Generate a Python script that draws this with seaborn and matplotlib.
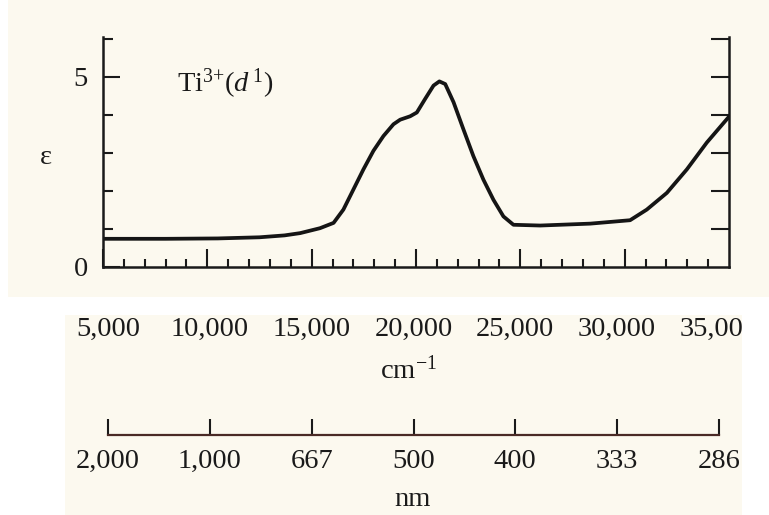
import numpy as np
import pandas as pd
import matplotlib
matplotlib.use("Agg")
import matplotlib.pyplot as plt
import seaborn as sns
from matplotlib.patches import Rectangle
from matplotlib.transforms import Bbox, TransformedBbox

# Data (wavenumber in cm^-1, molar absorptivity)
wavenumber = [5000, 8000, 10500, 12500, 13700, 14450, 15400, 16050, 16520,
              17000, 17480, 17960, 18440, 18920, 19240, 19720, 20040, 20440,
              20840, 21120, 21400, 21800, 22270, 22750, 23230, 23710, 24190,
              24670, 25950, 28350, 30260, 31060, 32020, 32980, 33940, 35000]
epsilon = [0.73, 0.73, 0.74, 0.77, 0.82, 0.88, 1.01, 1.15, 1.50,
           2.03, 2.56, 3.05, 3.44, 3.75, 3.87, 3.96, 4.06, 4.42,
           4.77, 4.88, 4.81, 4.33, 3.62, 2.91, 2.29, 1.76, 1.32,
           1.10, 1.08, 1.13, 1.22, 1.50, 1.94, 2.56, 3.27, 3.95]

# Scale bar labels
scale_ticks = [5000, 10000, 15000, 20000, 25000, 30000, 35000]
cm_labels = ["5,000", "10,000", "15,000", "20,000", "25,000", "30,000", "35,000"]
nm_labels = ["2,000", "1,000", "667", "500", "400", "333", "286"]

df = pd.DataFrame({"wn": wavenumber, "eps": epsilon})

sns.set_style("white")
plt.rcParams["font.family"] = ["Liberation Serif", "DejaVu Serif"]
plt.rcParams["mathtext.fontset"] = "custom"
plt.rcParams["mathtext.rm"] = "Liberation Serif"
plt.rcParams["mathtext.it"] = "Liberation Serif:italic"

W, H = 769, 515
ink = "#1a1a1a"
cream = "#fcf9ef"
fs = 20.5


def box(x0, y0, x1, y1):
    # pixel box (top-left origin) -> figure rect
    return [x0 / W, 1 - y1 / H, (x1 - x0) / W, (y1 - y0) / H]


fig = plt.figure(figsize=(W / 100, H / 100), dpi=100)
fig.patch.set_facecolor("white")

# scanned paper backgrounds
for (x0, y0, x1, y1) in [(8, 0, 769, 297), (65, 315, 742, 515)]:
    r = box(x0, y0, x1, y1)
    fig.patches.append(Rectangle((r[0], r[1]), r[2], r[3], transform=fig.transFigure,
                                 facecolor=cream, edgecolor="none", zorder=-5))

# Main spectrum
ax = fig.add_axes(box(103, 37, 729, 266.5))
ax.set_facecolor("none")
sns.lineplot(data=df, x="wn", y="eps", ax=ax, color="#151515", lw=2.7,
             sort=False, estimator=None, solid_joinstyle="round")
ax.set_xlim(5000, 35000)
ax.set_ylim(0, 6.05)
ax.set_xlabel("")
for s in ["left", "bottom"]:
    ax.spines[s].set_linewidth(1.8)
    ax.spines[s].set_color(ink)
ax.spines["top"].set_visible(False)
ax.spines["right"].set_visible(False)

ax.set_xticks([5000, 10000, 15000, 20000, 25000, 30000])
ax.set_xticks(np.arange(6000, 35000, 1000), minor=True)
ax.tick_params(axis="x", which="major", bottom=True, direction="in", length=13,
               width=1.5, color=ink, labelbottom=False)
ax.tick_params(axis="x", which="minor", bottom=True, direction="in", length=6,
               width=1.5, color=ink)

ax.set_yticks([0, 5])
ax.set_yticklabels(["0", "5"])
ax.set_yticks([1, 2, 3, 4, 6], minor=True)
ax.tick_params(axis="y", which="major", left=True, direction="in", length=12,
               width=1.5, color=ink, labelsize=fs, labelcolor=ink, pad=11)
ax.tick_params(axis="y", which="minor", left=True, direction="in", length=7,
               width=1.5, color=ink)

ax.set_ylabel("ε", rotation=0, fontsize=fs, color=ink, va="center")
ax.yaxis.set_label_coords(-0.091, 0.473)

right = ax.secondary_yaxis("right")
right.set_yticks([1, 2, 3, 4, 5, 6])
right.tick_params(right=True, direction="in", length=13, width=1.5, color=ink,
                  labelright=False)
right.spines["right"].set_linewidth(1.8)
right.spines["right"].set_color(ink)

ax.text(8550, 4.81, "Ti$^{3{+}}$($d^{\\,1}$)", fontsize=fs, color=ink, va="center")

# Wavenumber / wavelength scale bar
ax2 = fig.add_axes(box(108, 345, 719, 435))
ax2.set_facecolor("none")
ax2.set_xlim(5000, 35000)
ax2.set_yticks([])
for s in ["left", "right", "top"]:
    ax2.spines[s].set_visible(False)
ax2.spines["bottom"].set_color("#4a2a26")
ax2.spines["bottom"].set_linewidth(1.6)
ax2.set_xticks(scale_ticks)
ax2.set_xticklabels(nm_labels)
ax2.tick_params(axis="x", bottom=True, direction="in", length=11.5, width=1.5,
                color=ink, labelsize=fs, labelcolor=ink, pad=10)

top = ax2.secondary_xaxis("top")
top.set_xticks(scale_ticks)
top.set_xticklabels(cm_labels)
top.tick_params(length=0, labelsize=fs, labelcolor=ink, pad=2)
top.spines["top"].set_visible(False)

clip = TransformedBbox(Bbox([[0, 0], [742 / W, 1]]), fig.transFigure)
for lab in top.get_xticklabels():
    lab.set_clip_box(clip)
    lab.set_clip_on(True)

fig.text(408 / W, 1 - 370 / H, "cm$^{-1}$", fontsize=fs, color=ink,
         ha="center", va="center")
fig.text(413 / W, 1 - 499 / H, "nm", fontsize=fs, color=ink,
         ha="center", va="center")

fig.savefig("out.png", dpi=100)
